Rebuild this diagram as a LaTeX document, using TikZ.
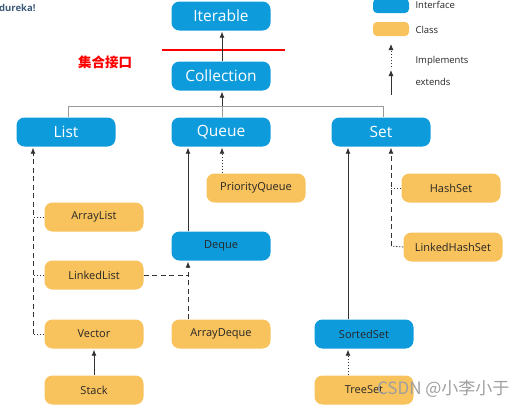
\documentclass[tikz,border=0pt]{standalone}
\usepackage{fontspec}
\setmainfont{Open Sans}
\newfontfamily\cjk{Noto Sans CJK SC}
\usetikzlibrary{arrows.meta}
\definecolor{ifc}{HTML}{0E9BDB}
\definecolor{cls}{HTML}{F8C25C}
\definecolor{lnk}{HTML}{333333}
\definecolor{logo}{HTML}{3D5A7A}
\begin{document}
\begin{tikzpicture}[x=1pt,y=-1pt,
  box/.style={rounded corners=8pt, minimum width=99pt, minimum height=29pt, inner sep=0pt,
    font=\fontsize{11}{13}\selectfont, text=black!85},
  ibox/.style={box, fill=ifc},
  topbox/.style={ibox, text=white, font=\fontsize{15.5}{18}\selectfont},
  cbox/.style={box, fill=cls},
  legbox/.style={rounded corners=4pt, minimum width=36pt, minimum height=14pt, inner sep=0pt},
  legtext/.style={anchor=west, font=\fontsize{9.5}{11}\selectfont, text=black!85},
  tipped/.style={-{Latex[length=6pt,width=5pt]}, shorten >=1pt},
  solidl/.style={draw=lnk, line width=0.8pt},
  dashedl/.style={draw=lnk, line width=0.8pt, dash pattern=on 5pt off 3.5pt},
  dottedl/.style={draw=lnk, line width=0.8pt, dash pattern=on 1.4pt off 1.6pt},
  grayl/.style={draw=gray!80, line width=0.9pt}
]
\useasboundingbox (0,0) rectangle (528,413);

% logo and labels
\node[anchor=west, text=logo, font=\bfseries\fontsize{9.5}{11}\selectfont, inner sep=0pt] (logo) at (-1,8) {dureka!};
\node[text=red, font=\cjk\bfseries\fontsize{13.5}{15}\selectfont] (cn) at (105,62) {集合接口};
\coordinate (r1) at (162,50);
\coordinate (r2) at (285,50);
\draw[red, line width=1.3pt] (r1) -- (r2);

% legend
\node[legbox, fill=ifc] (lgi) at (391,6) {};
\node[legtext] (lgit) at (412,5) {Interface};
\node[legbox, fill=cls] (lgc) at (391,29) {};
\node[legtext] (lgct) at (412,30) {Class};
\coordinate (im1) at (391,67);
\coordinate (im2) at (391,43);
\draw[dottedl, tipped] (im1) -- (im2);
\node[legtext] (lgim) at (412,61) {Implements};
\coordinate (ex1) at (391,95);
\coordinate (ex2) at (391,69);
\draw[solidl, tipped] (ex1) -- (ex2);
\node[legtext] (lgex) at (412,82) {extends};

% interfaces
\node[topbox] (iter) at (221,16) {Iterable};
\node[topbox] (coll) at (221,76) {Collection};
\node[topbox] (list) at (66,132) {List};
\node[topbox] (queue) at (221,132) {Queue};
\node[topbox] (set) at (381,132) {Set};
\node[ibox] (deque) at (221,246) {Deque};
\node[ibox] (ss) at (364,334) {SortedSet};

% classes
\node[cbox] (pq) at (256,188) {PriorityQueue};
\node[cbox] (al) at (94,217) {ArrayList};
\node[cbox] (hs) at (451,188) {HashSet};
\node[cbox] (lhs) at (453,247) {LinkedHashSet};
\node[cbox] (ll) at (94,275) {LinkedList};
\node[cbox] (vec) at (94,334) {Vector};
\node[cbox] (ad) at (221,334) {ArrayDeque};
\node[cbox] (stack) at (94,390) {Stack};
\node[cbox] (ts) at (364,390) {TreeSet};

% top connectors
\coordinate (hub) at (222,106);
\coordinate (hl) at (68,106);
\coordinate (hr) at (383,106);
\draw[grayl] (list.north -| hl) |- (hr) -- (set.north -| hr);
\draw[grayl] (hub) -- (queue.north -| hub);
\draw[solidl, tipped] (hub) -- (coll.south -| hub);
\draw[solidl, tipped] (coll.north -| hub) -- (iter.south -| hub);

% List
\coordinate (lv) at (33,334);
\draw[dashedl, tipped] (lv) -- (list.south -| lv);
\draw[dottedl] (al.west) -- (al.west -| lv);
\draw[dottedl] (ll.west) -- (ll.west -| lv);
\draw[dottedl] (vec.west) -- (lv);
\draw[solidl, tipped] (stack.north) -- (vec.south);

% Queue
\coordinate (qx) at (188,0);
\draw[solidl, tipped] (deque.north -| qx) -- (queue.south -| qx);
\draw[dottedl, tipped] (pq.north -| hub) -- (queue.south -| hub);
\draw[dashedl, tipped] (ad.north -| qx) -- (deque.south -| qx);
\draw[dashedl] (ll.east) -- (ll.east -| qx);

% Set
\coordinate (sx) at (348,0);
\draw[solidl, tipped] (ss.north -| sx) -- (set.south -| sx);
\coordinate (sv) at (391,246);
\draw[dashedl, tipped] (sv) -- (set.south -| sv);
\draw[dottedl] (hs.west) -- (hs.west -| sv);
\draw[dottedl] (lhs.west) -- (sv);
\draw[dottedl, tipped] (ts.north -| sx) -- (ss.south -| sx);

% watermark
\node[text=gray!75, font=\cjk\fontsize{17}{19}\selectfont, anchor=east] (wm) at (513,389) {CSDN @小李小于};
\end{tikzpicture}
\end{document}
